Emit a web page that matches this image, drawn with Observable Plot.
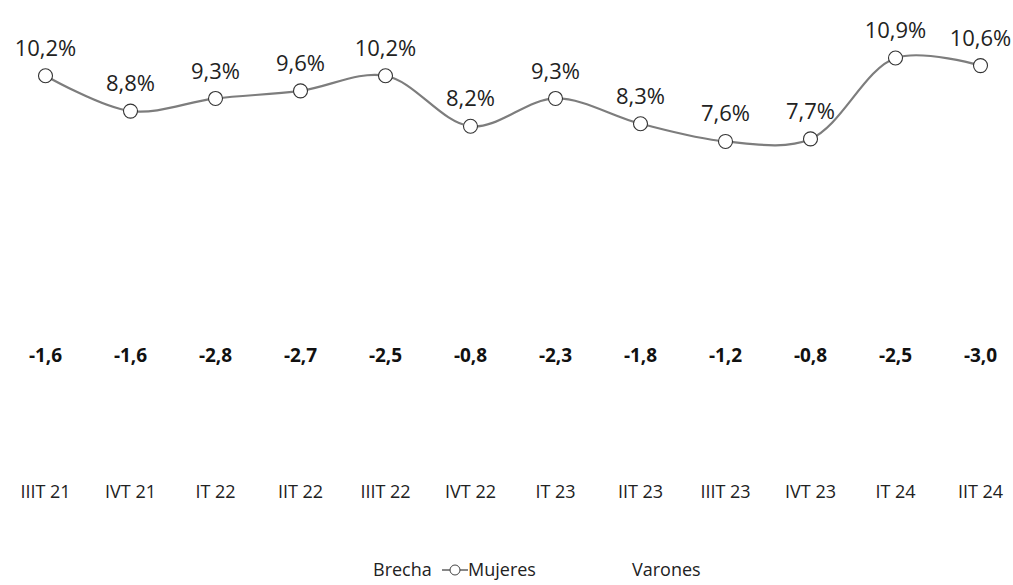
<!DOCTYPE html>
<html>
<head>
<meta charset="utf-8">
<script src="https://cdn.jsdelivr.net/npm/d3@7"></script>
<script src="https://cdn.jsdelivr.net/npm/@observablehq/plot@0.6"></script>
<style>
  html, body { margin: 0; padding: 0; background: #fff; }
  #chart { width: 1013px; }
  .legend { font-family: "Open Sans", sans-serif; font-size: 18px; color: #222; position: relative; height: 65px; }
  .legend span { position: absolute; top: 37px; }
</style>
</head>
<body>
<div id="chart"></div>
<div class="legend">
  <span style="left:373px">Brecha</span>
  <span style="left:442px; top:40px"><svg width="26" height="18"><line x1="0" y1="9" x2="26" y2="9" stroke="#888" stroke-width="2"/><circle cx="13" cy="9" r="5" fill="#fff" stroke="#444" stroke-width="1"/></svg></span>
  <span style="left:468px">Mujeres</span>
  <span style="left:632px">Varones</span>
</div>
<script>
const quarters = ["IIIT 21","IVT 21","IT 22","IIT 22","IIIT 22","IVT 22","IT 23","IIT 23","IIIT 23","IVT 23","IT 24","IIT 24"];
const mujeres = [10.2, 8.8, 9.3, 9.6, 10.2, 8.2, 9.3, 8.3, 7.6, 7.7, 10.9, 10.6];
const brecha = [-1.6, -1.6, -2.8, -2.7, -2.5, -0.8, -2.3, -1.8, -1.2, -0.8, -2.5, -3.0];
const varones = [8.6, 7.2, 6.5, 6.9, 7.7, 7.4, 7.0, 6.5, 6.4, 6.9, 8.4, 7.6];

const data = quarters.map((q, i) => ({q, m: mujeres[i], b: brecha[i], v: varones[i]}));
const fmt = v => v.toFixed(1).replace(".", ",");

const font = "Open Sans, sans-serif";
const chart = Plot.plot({
  width: 1013,
  height: 520,
  marginLeft: 0,
  marginRight: 0,
  marginTop: 0,
  marginBottom: 45,
  style: {fontFamily: font, background: "#fff", overflow: "visible"},
  x: {domain: quarters, type: "point", range: [43, 982], padding: 0, label: null},
  y: {domain: [0, 11], range: [333, 55], axis: null},
  marks: [
    Plot.axisX({tickSize: 0, tickPadding: 10, fontSize: 18, fill: "#222", label: null, anchor: "bottom"}),
    // Varones (rendered white, as in the reference)
    Plot.line(data, {x: "q", y: "v", stroke: "#ffffff", strokeWidth: 2, curve: "catmull-rom"}),
    Plot.text(data, {x: "q", y: "v", text: d => fmt(d.v) + "%", dy: 26, fill: "#ffffff", fontSize: 20}),
    // Mujeres
    Plot.line(data, {x: "q", y: "m", stroke: "#7d7d7d", strokeWidth: 2.2, curve: "catmull-rom"}),
    Plot.dot(data, {x: "q", y: "m", r: 7, fill: "#fff", stroke: "#333", strokeWidth: 1.1}),
    Plot.text(data, {x: "q", y: "m", text: d => fmt(d.m) + "%", dy: -27, fill: "#222", fontSize: 22}),
    // Brecha
    Plot.text(data, {x: "q", text: d => fmt(d.b), frameAnchor: "bottom", dy: -114, fill: "#111", fontSize: 19, fontWeight: "bold"})
  ]
});
document.getElementById("chart").appendChild(chart);
</script>
</body>
</html>
